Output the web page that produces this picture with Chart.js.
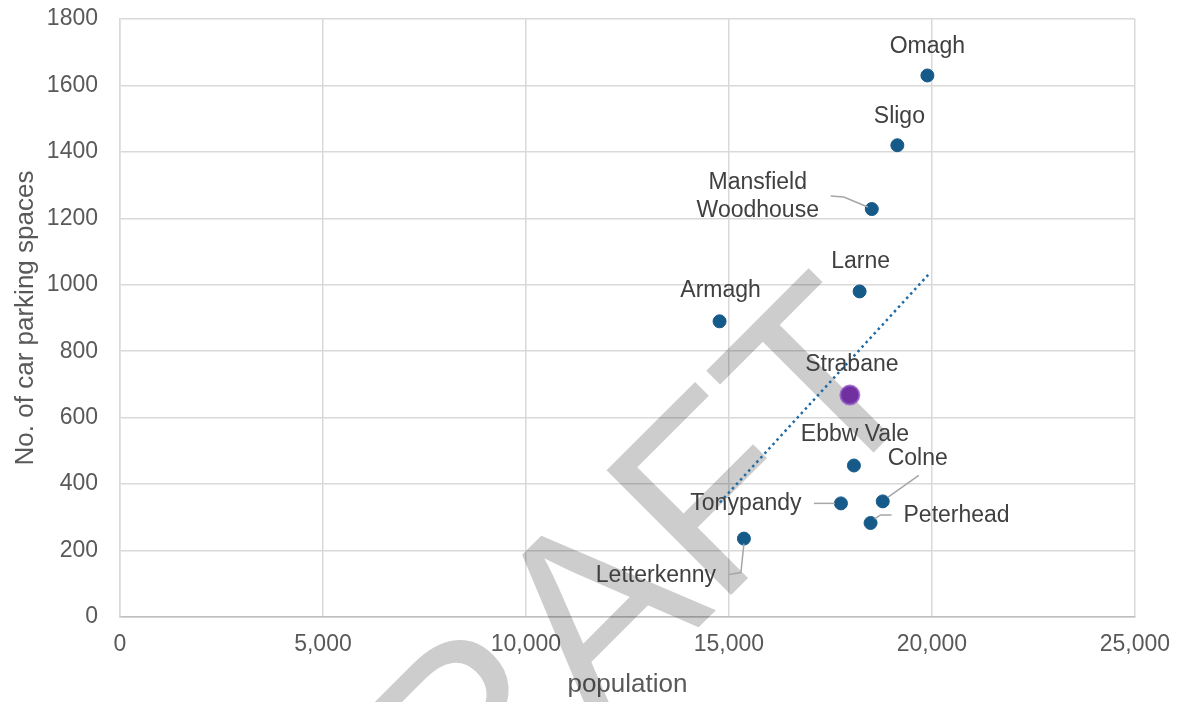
<!DOCTYPE html>
<html>
<head>
<meta charset="utf-8">
<title>Car parking spaces vs population</title>
<script src="https://cdn.jsdelivr.net/npm/chart.js@4.4.1/dist/chart.umd.min.js"></script>
<style>
  html, body { margin: 0; padding: 0; background: #fff; }
  #chart { display: block; }
</style>
</head>
<body>
<canvas id="chart" width="1184" height="702"></canvas>
<script>
// data
const towns = ['Omagh', 'Sligo', 'Mansfield Woodhouse', 'Larne', 'Armagh', 'Strabane',
               'Ebbw Vale', 'Colne', 'Tonypandy', 'Peterhead', 'Letterkenny'];
const population = [19890, 19150, 18520, 18220, 14770, 17980, 18080, 18790, 17760, 18490, 15370];
const parkingSpaces = [1630, 1420, 1228, 980, 890, 668, 456, 348, 342, 283, 236];
const highlightTown = 'Strabane';

// dotted trendline end points
const trendPopulation = [14780, 19910];
const trendSpaces = [345, 1030];

const xMin = 0, xMax = 25000, xStep = 5000;
const yMin = 0, yMax = 1800, yStep = 200;

const FONT = "'Liberation Sans', Arial, sans-serif";
const POINT_BLUE = '#165a8a';
const PURPLE = '#7030a0';

// label position relative to its point (px), plus optional leader line
const labelPlacement = {
    'Omagh':               { dx: 0,    dy: -29 },
    'Sligo':               { dx: 2,    dy: -29 },
    'Mansfield Woodhouse': { dx: -114, dy: -12, lines: ['Mansfield', 'Woodhouse'],
                             leader: [[-41, -13], [-28, -12], [-4, -2]] },
    'Larne':               { dx: 1,    dy: -30 },
    'Armagh':              { dx: 1,    dy: -31 },
    'Strabane':            { dx: 2,    dy: -30 },
    'Ebbw Vale':           { dx: 1,    dy: -31 },
    'Colne':               { dx: 35,   dy: -43, leader: [[5, -4], [36, -26]] },
    'Tonypandy':           { dx: -95,  dy: 0,   leader: [[-27, 0], [-6, 0]] },
    'Peterhead':           { dx: 86,   dy: -7,  leader: [[4, -4], [10, -8], [21, -8]] },
    'Letterkenny':         { dx: -88,  dy: 37,  leader: [[0, 5], [-3, 34], [-15, 36]] }
};

const pointData = towns.map((t, i) => ({ x: population[i], y: parkingSpaces[i] }));
const trendData = trendPopulation.map((p, i) => ({ x: p, y: trendSpaces[i] }));

// big grey DRAFT stamp, under the marks
const watermarkPlugin = {
    id: 'watermark',
    beforeDatasetsDraw(chart) {
        const ctx = chart.ctx;
        ctx.save();
        ctx.globalCompositeOperation = 'multiply';
        ctx.translate(334, 992);
        ctx.rotate(-Math.PI / 4);
        ctx.font = '256px ' + FONT;
        ctx.textAlign = 'left';
        ctx.textBaseline = 'alphabetic';
        ctx.fillStyle = '#cdcdcd';
        ctx.fillText('DRAFT', 0, 0);
        ctx.restore();
    }
};

const labelPlugin = {
    id: 'townLabels',
    afterDatasetsDraw(chart) {
        const ctx = chart.ctx;
        const meta = chart.getDatasetMeta(1);
        ctx.save();
        meta.data.forEach((pt, i) => {
            const name = towns[i];
            const place = labelPlacement[name] || { dx: 0, dy: -30 };
            if (place.leader) {
                ctx.beginPath();
                ctx.strokeStyle = '#a6a6a6';
                ctx.lineWidth = 1.5;
                place.leader.forEach((p, k) => {
                    if (k === 0) ctx.moveTo(pt.x + p[0], pt.y + p[1]);
                    else ctx.lineTo(pt.x + p[0], pt.y + p[1]);
                });
                ctx.stroke();
            }
            ctx.font = '23px ' + FONT;
            ctx.fillStyle = '#404040';
            ctx.textAlign = 'center';
            ctx.textBaseline = 'middle';
            const lines = place.lines || [name];
            const lh = 28;
            lines.forEach((ln, k) => {
                const off = (k - (lines.length - 1) / 2) * lh;
                ctx.fillText(ln, pt.x + place.dx, pt.y + place.dy + off);
            });
        });
        ctx.restore();
    }
};

new Chart(document.getElementById('chart'), {
    type: 'scatter',
    data: {
        datasets: [
            {
                type: 'line',
                label: 'Trend',
                data: trendData,
                borderColor: '#1f6aa5',
                borderWidth: 2.5,
                borderDash: [2.5, 3.5],
                pointRadius: 0,
                fill: false,
                tension: 0
            },
            {
                label: 'Towns',
                data: pointData,
                pointRadius: towns.map(t => t === highlightTown ? 9.5 : 6.5),
                pointBackgroundColor: towns.map(t => t === highlightTown ? PURPLE : POINT_BLUE),
                pointBorderColor: towns.map(t => t === highlightTown ? 'rgba(150,90,200,0.8)' : POINT_BLUE),
                pointBorderWidth: towns.map(t => t === highlightTown ? 2 : 1)
            }
        ]
    },
    options: {
        responsive: false,
        animation: false,
        events: [],
        layout: { padding: { top: 19, right: 47, bottom: 0, left: 0 } },
        plugins: {
            legend: { display: false },
            tooltip: { enabled: false }
        },
        scales: {
            x: {
                type: 'linear',
                min: xMin,
                max: xMax,
                afterFit: s => { s.height = 85; },
                ticks: {
                    stepSize: xStep,
                    padding: 14,
                    color: '#595959',
                    font: { family: FONT, size: 23 },
                    callback: v => v.toLocaleString('en-GB')
                },
                grid: { color: '#d9d9d9', lineWidth: 1.5, drawTicks: false },
                border: { color: '#bfbfbf', width: 1.5 },
                title: {
                    display: true,
                    text: 'population',
                    color: '#595959',
                    font: { family: FONT, size: 26 },
                    padding: { top: 0, bottom: 2 }
                }
            },
            y: {
                min: yMin,
                max: yMax,
                afterFit: s => {
                    s.width = 120;
                    s.paddingTop = 0;
                    s.paddingBottom = 0;
                },
                ticks: {
                    stepSize: yStep,
                    padding: 22,
                    color: '#595959',
                    font: { family: FONT, size: 23 },
                    callback: v => String(v)
                },
                grid: { color: '#d9d9d9', lineWidth: 1.5, drawTicks: false },
                border: { color: '#d9d9d9', width: 1.5 },
                title: {
                    display: true,
                    text: 'No. of car parking spaces',
                    color: '#595959',
                    font: { family: FONT, size: 26 },
                    padding: { top: 10, bottom: 0 }
                }
            }
        }
    },
    plugins: [watermarkPlugin, labelPlugin]
});
</script>
</body>
</html>
